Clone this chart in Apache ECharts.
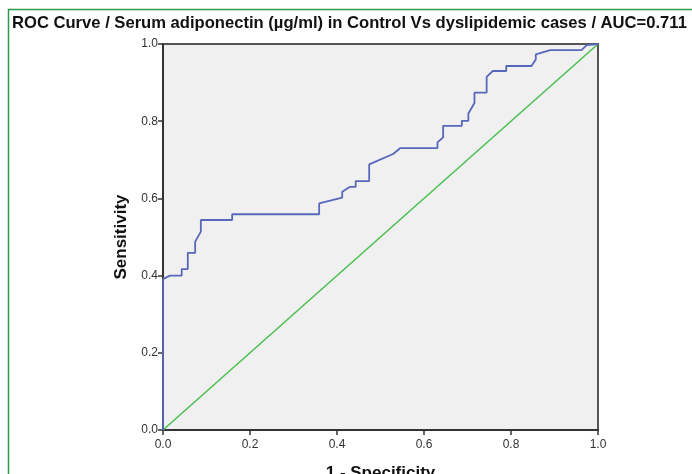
<!DOCTYPE html>
<html>
<head>
<meta charset="utf-8">
<title>ROC Curve</title>
<script src="https://cdn.jsdelivr.net/npm/echarts@6/dist/echarts.min.js"></script>
<style>
  html, body { margin: 0; padding: 0; background: #fff; }
  #chart { width: 692px; height: 474px; }
</style>
</head>
<body>
<div id="chart"></div>
<script>
// ROC 曲线的点 (1 - 特异度, 灵敏度)
var fpr = [0, 0, 0.016, 0.043, 0.043, 0.057, 0.057, 0.074, 0.074, 0.087, 0.087, 0.159, 0.159,
    0.359, 0.359, 0.412, 0.412, 0.430, 0.443, 0.443, 0.474, 0.474, 0.529, 0.545, 0.631, 0.631,
    0.644, 0.644, 0.687, 0.687, 0.702, 0.702, 0.716, 0.716, 0.744, 0.744, 0.758, 0.789, 0.789,
    0.847, 0.857, 0.857, 0.890, 0.962, 0.974, 1];
var tpr = [0, 0.391, 0.400, 0.400, 0.417, 0.417, 0.459, 0.459, 0.488, 0.514, 0.544, 0.544, 0.559,
    0.559, 0.587, 0.602, 0.617, 0.630, 0.630, 0.645, 0.645, 0.688, 0.715, 0.730, 0.730, 0.745,
    0.758, 0.788, 0.788, 0.801, 0.801, 0.820, 0.847, 0.874, 0.874, 0.915, 0.930, 0.930, 0.943,
    0.943, 0.960, 0.973, 0.984, 0.984, 0.997, 1];
// 参考线
var refX = [0, 1];
var refY = [0, 1];

var titleText = 'ROC Curve / Serum adiponectin (\u00b5g/ml) in Control Vs dyslipidemic cases / AUC=0.711';

var rocData = [];
for (var i = 0; i < fpr.length; i++) {
    rocData.push([fpr[i], tpr[i]]);
}
var refData = [];
for (var j = 0; j < refX.length; j++) {
    refData.push([refX[j], refY[j]]);
}

var myChart = echarts.init(document.getElementById('chart'));

var axisStyle = {
    type: 'value',
    min: 0,
    max: 1,
    interval: 0.2,
    nameLocation: 'middle',
    nameTextStyle: {
        fontFamily: 'Liberation Sans',
        fontWeight: 'bold',
        fontSize: 17,
        color: '#111'
    },
    axisLine: { show: true, lineStyle: { color: '#333', width: 2 } },
    axisTick: { show: true, inside: false, length: 5, lineStyle: { color: '#333', width: 1.5 } },
    axisLabel: {
        fontFamily: 'Liberation Sans',
        fontSize: 12,
        color: '#333',
        formatter: function(v) { return v.toFixed(1); }
    },
    splitLine: { show: false }
};

var option = {
    animation: false,
    backgroundColor: '#fff',
    title: {
        text: titleText,
        left: 7,
        top: 10,
        textStyle: {
            fontFamily: 'Liberation Sans',
            fontWeight: 'bold',
            fontSize: 16.6,
            color: '#111'
        }
    },
    graphic: [{
        type: 'rect',
        shape: { x: 8.5, y: 9.5, width: 720, height: 520 },
        style: { fill: 'none', stroke: '#2f9a45', lineWidth: 1.5 },
        silent: true
    }],
    grid: {
        left: 163,
        top: 44,
        width: 435,
        height: 386,
        outerBoundsMode: 'none',
        containLabel: false,
        show: true,
        backgroundColor: '#f0f0f0',
        borderColor: '#555',
        borderWidth: 2
    },
    xAxis: Object.assign({}, axisStyle, {
        name: '1 - Specificity',
        nameGap: 35,
        axisLabel: Object.assign({}, axisStyle.axisLabel, { margin: 9 })
    }),
    yAxis: Object.assign({}, axisStyle, {
        name: 'Sensitivity',
        nameGap: 33,
        axisLabel: Object.assign({}, axisStyle.axisLabel, { margin: 5 })
    }),
    series: [{
        name: 'ROC',
        type: 'line',
        data: rocData,
        showSymbol: false,
        lineStyle: { color: '#5668bb', width: 1.8 },
        z: 3
    }, {
        name: 'Reference',
        type: 'line',
        data: refData,
        showSymbol: false,
        lineStyle: { color: '#4cc052', width: 1.6 },
        z: 2
    }]
};

myChart.setOption(option);
</script>
</body>
</html>
